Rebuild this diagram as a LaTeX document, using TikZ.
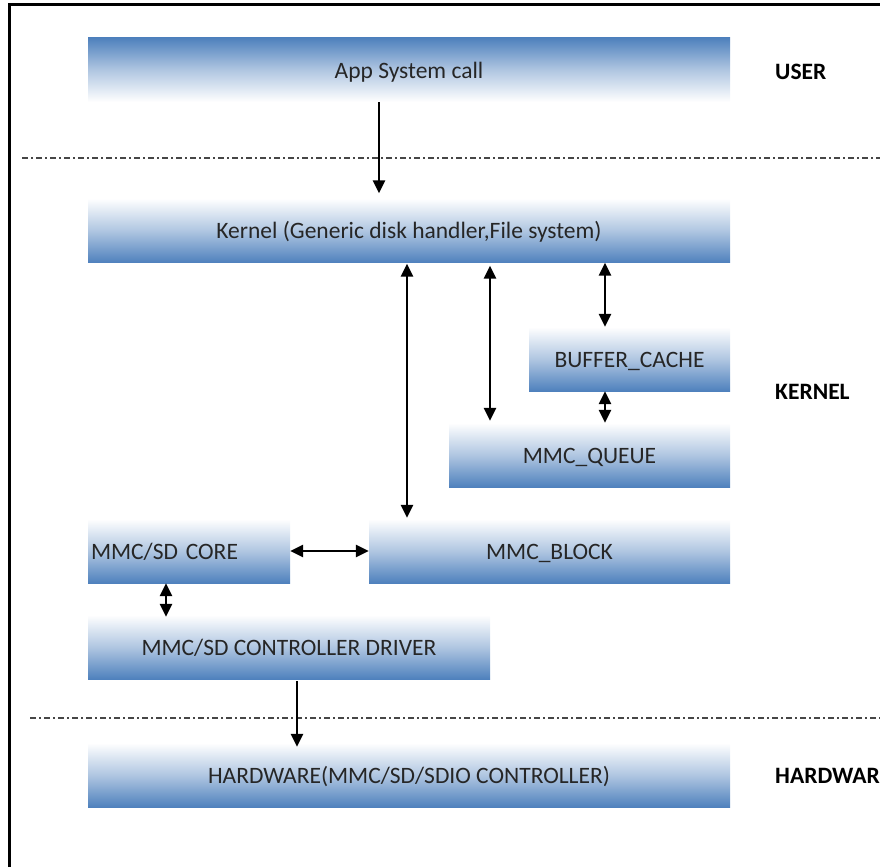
\documentclass[tikz,border=0pt]{standalone}
\usepackage{fontspec}
\setmainfont{Carlito}
\usetikzlibrary{arrows.meta}
\definecolor{boxblue}{RGB}{79,129,189}
\definecolor{sepgray}{RGB}{70,70,70}
\begin{document}
\begin{tikzpicture}[x=1pt,y=-1pt,
  layer/.style={shade, top color=white, bottom color=boxblue, middle color=boxblue!45,
    inner sep=0pt, minimum height=64pt, text height=18pt, text depth=2pt,
    font=\fontsize{23.5}{26}\selectfont, text=black!85},
  layerflip/.style={layer, top color=boxblue, bottom color=white, middle color=boxblue!45},
  zone/.style={font=\fontsize{23.5}{26}\selectfont\bfseries, anchor=west, inner sep=0pt},
  sep/.style={draw=sepgray, line width=1.8pt, dash pattern=on 6pt off 3pt on 2pt off 3pt},
  arr/.style={draw, line width=2.6pt, -{Triangle[width=12pt,length=13pt]}},
  biarr/.style={draw, line width=2.6pt, {Triangle[width=12pt,length=13pt]}-{Triangle[width=12pt,length=13pt]}}]
  \useasboundingbox (0,0) rectangle (880,867);
  % outer frame, open on the right and at the bottom
  \draw[line width=3pt] (9,867) -- (9,5) -- (880,5);

  % layers
  \node[layerflip, minimum width=642pt] (app) at (409,70) {App System call};
  \node[layer, minimum width=642pt] (kernel) at (409,230.5) {Kernel (Generic disk handler,File system)};
  \node[layer, minimum width=201pt] (cache) at (629.5,359) {BUFFER\_CACHE};
  \node[layer, minimum width=281pt] (queue) at (589.5,455) {MMC\_QUEUE};
  \node[layer, minimum width=202pt, text width=196pt, align=left] (core) at (189,551) {MMC/SD CORE};
  \node[layer, minimum width=361pt] (block) at (549.5,551) {MMC\_BLOCK};
  \node[layer, minimum width=402pt] (driver) at (289,647) {MMC/SD CONTROLLER DRIVER};
  \node[layer, minimum width=642pt] (hw) at (409,775) {HARDWARE(MMC/SD/SDIO CONTROLLER)};

  % zone labels
  \node[zone] (user) at (775,72) {USER};
  \node[zone] (kern) at (775,392) {KERNEL};
  \node[zone] (hard) at (775,776) {HARDWAR};

  % zone separators
  \coordinate (s1a) at (22,158);  \coordinate (s1b) at (880,158);
  \coordinate (s2a) at (30,718);  \coordinate (s2b) at (880,718);
  \draw[sep] (s1a) -- (s1b);
  \draw[sep] (s2a) -- (s2b);

  % connector columns
  \coordinate (xa) at (379,0);
  \coordinate (xb) at (407,0);
  \coordinate (xq) at (490,0);
  \coordinate (xc) at (605,0);
  \coordinate (xd) at (166,0);
  \coordinate (xh) at (297,0);

  \draw[arr, shorten >=5pt] (app.south -| xa) -- (kernel.north -| xa);
  \draw[biarr, shorten <=1pt, shorten >=1pt] (kernel.south -| xb) -- (block.north -| xb);
  \draw[biarr, shorten <=3pt, shorten >=2pt] (kernel.south -| xq) -- (queue.north -| xq);
  \draw[biarr] (kernel.south -| xc) -- (cache.north -| xc);
  \draw[biarr] (cache.south -| xc) -- (queue.north -| xc);
  \draw[biarr] (core.east) -- (block.west);
  \draw[biarr, shorten >=-2pt] (core.south -| xd) -- (driver.north -| xd);
  \draw[arr, shorten <=2pt, shorten >=-4pt] (driver.south -| xh) -- (hw.north -| xh);
\end{tikzpicture}
\end{document}
